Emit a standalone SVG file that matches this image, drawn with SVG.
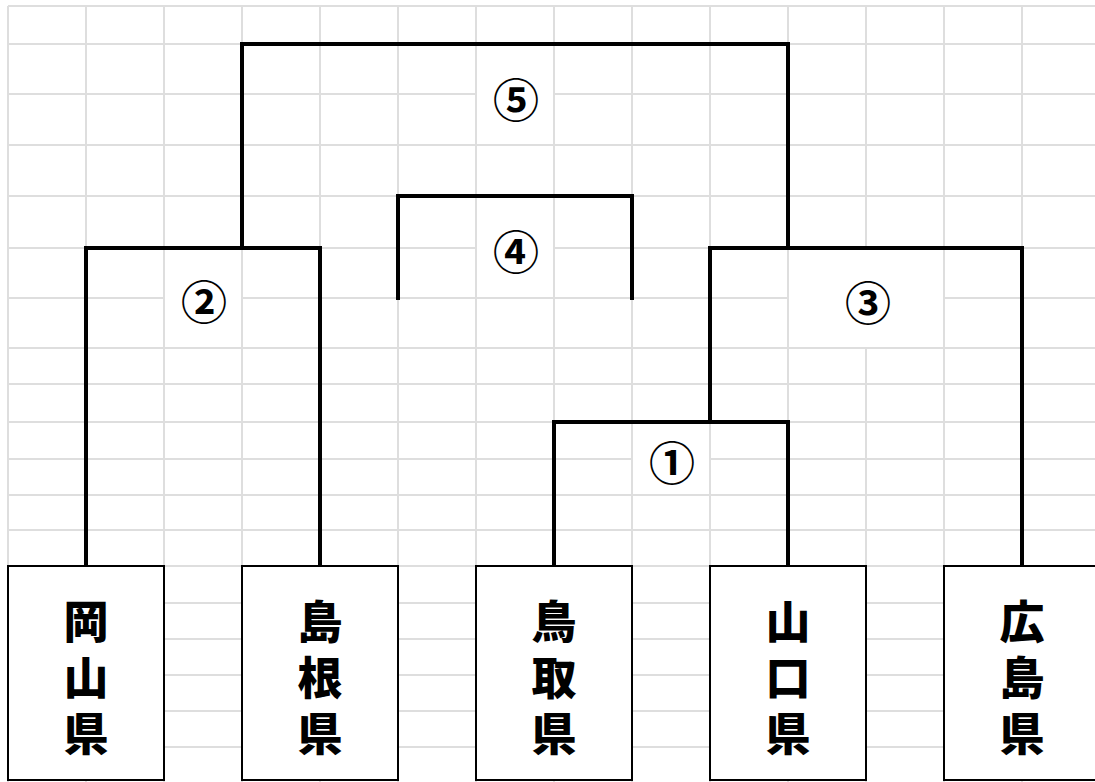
<svg xmlns="http://www.w3.org/2000/svg" width="1095" height="782" viewBox="0 0 1095 782">
<style>
.grid{stroke:#dedede;stroke-width:2;fill:none}
.bg{fill:#ffffff}
.bracket{stroke:#000;stroke-width:4;fill:none;stroke-linejoin:miter;stroke-linecap:square}
.box{fill:#fff;stroke:#000;stroke-width:2}
.pref{font-family:'Noto Sans CJK JP','Noto Sans CJK SC',sans-serif;font-size:45px;font-weight:900;fill:#000;text-anchor:middle;writing-mode:vertical-rl;letter-spacing:11px}
.num{font-family:'Noto Sans CJK JP','Noto Sans CJK SC',sans-serif;font-size:46px;font-weight:700;fill:#000;text-anchor:middle;dominant-baseline:central}
</style>
<rect x="0" y="0" width="1095" height="782" fill="#fff"/>
<g id="grid">
<path class="grid" d="M8 6H1095M8 44H1095M8 94H1095M8 145H1095M8 196H1095M8 248H1095M8 298H1095M8 348H1095M8 384H1095M8 422H1095M8 459H1095M8 495H1095M8 530H1095M8 566H1095M8 603H1095M8 639H1095M8 675H1095M8 711H1095M8 747H1095M8 783H1095"/>
<path class="grid" d="M8 6V782M86 6V782M164 6V782M242 6V782M320 6V782M398 6V782M476 6V782M554 6V782M632 6V782M710 6V782M788 6V782M866 6V782M944 6V782M1022 6V782"/>
<rect class="bg" x="165" y="249" width="76" height="98"/>
<rect class="bg" x="477" y="45" width="76" height="99"/>
<rect class="bg" x="477" y="197" width="76" height="100"/>
<rect class="bg" x="633" y="423" width="76" height="71"/>
<rect class="bg" x="789" y="249" width="154" height="98"/>
</g>
<g id="connectors">
<path id="m1" class="bracket" d="M554 566V422H788V566"/>
<path id="m2" class="bracket" d="M86 566V248H320V566"/>
<path id="m3" class="bracket" d="M710 422V248H1022V566"/>
<path id="m4" class="bracket" d="M398 298V196H632V298"/>
<path id="m5" class="bracket" d="M242 248V44H788V248"/>
</g>
<g id="label-1"><text class="num" x="672" y="460">①</text></g>
<g id="label-2"><text class="num" x="204" y="299">②</text></g>
<g id="label-3"><text class="num" x="868" y="300">③</text></g>
<g id="label-4"><text class="num" x="516" y="249">④</text></g>
<g id="label-5"><text class="num" x="516" y="97">⑤</text></g>
<g id="okayama">
<rect class="box" x="8" y="566" width="156" height="214"/>
<text class="pref" x="86" y="683">岡山県</text>
</g>
<g id="shimane">
<rect class="box" x="242" y="566" width="156" height="214"/>
<text class="pref" x="320" y="683">島根県</text>
</g>
<g id="tottori">
<rect class="box" x="476" y="566" width="156" height="214"/>
<text class="pref" x="554" y="683">鳥取県</text>
</g>
<g id="yamaguchi">
<rect class="box" x="710" y="566" width="156" height="214"/>
<text class="pref" x="788" y="683">山口県</text>
</g>
<g id="hiroshima">
<rect class="box" x="944" y="566" width="156" height="214"/>
<text class="pref" x="1022" y="683">広島県</text>
</g>
</svg>
